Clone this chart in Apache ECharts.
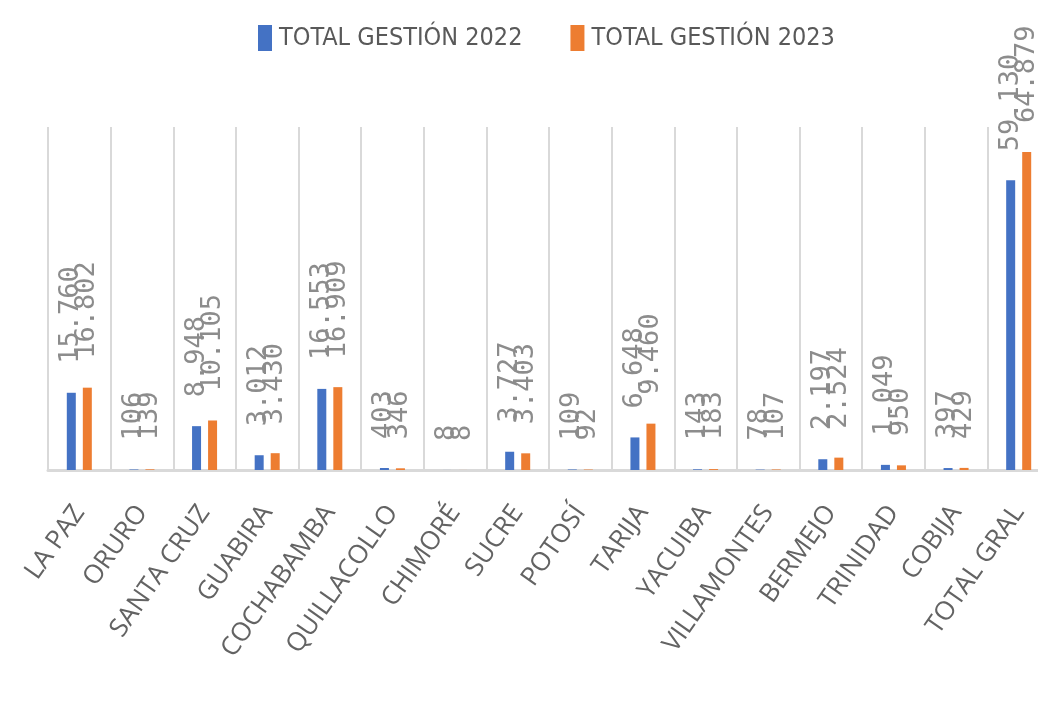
<!DOCTYPE html>
<html>
<head>
<meta charset="utf-8">
<script src="https://cdn.jsdelivr.net/npm/echarts@6/dist/echarts.min.js"></script>
<style>
html, body { margin: 0; padding: 0; background: #fff; }
#main { width: 1038px; height: 721px; }
</style>
</head>
<body>
<div id="main"></div>
<script>
var categories = ['LA PAZ', 'ORURO', 'SANTA CRUZ', 'GUABIRA', 'COCHABAMBA', 'QUILLACOLLO', 'CHIMORÉ', 'SUCRE',
    'POTOSÍ', 'TARIJA', 'YACUIBA', 'VILLAMONTES', 'BERMEJO', 'TRINIDAD', 'COBIJA', 'TOTAL GRAL'];
var gestion2022 = [15760, 106, 8948, 3012, 16553, 403, 8, 3727, 109, 6648, 143, 78, 2197, 1049, 397, 59130];
var gestion2023 = [16802, 139, 10105, 3430, 16909, 346, 8, 3403, 92, 9460, 183, 107, 2524, 950, 429, 64879];
var seriesNames = ['TOTAL GESTIÓN 2022', 'TOTAL GESTIÓN 2023'];

var chart = echarts.init(document.getElementById('main'));

// separador de miles con punto
function miles(v) {
    return String(v).replace(/\B(?=(\d{3})+(?!\d))/g, '.');
}

var valueLabel = {
    show: true,
    position: 'top',
    rotate: 90,
    align: 'left',
    verticalAlign: 'middle',
    distance: 29,
    color: '#8c8c8c',
    fontFamily: 'DejaVu Sans Mono',
    fontSize: 27,
    formatter: function (p) { return miles(p.value); }
};

option = {
    animation: false,
    color: ['#4472c4', '#ed7d31'],
    legend: {
        top: 20,
        left: 253,
        itemWidth: 14,
        itemHeight: 26,
        itemGap: 48,
        icon: 'rect',
        textStyle: {
            color: '#595959',
            fontFamily: 'DejaVu Sans Condensed, Roboto, sans-serif',
            fontSize: 25,
            padding: [0, 0, 0, 2]
        },
        data: seriesNames
    },
    grid: {
        left: 48,
        top: 127,
        width: 1002,
        bottom: 251,
        outerBoundsMode: 'none'
    },
    xAxis: {
        type: 'category',
        data: categories,
        axisTick: { show: false },
        axisLine: {
            lineStyle: { color: '#d9d9d9', width: 3 }
        },
        splitLine: {
            show: true,
            lineStyle: { color: '#d9d9d9', width: 2 }
        },
        axisLabel: {
            interval: 0,
            rotate: 55,
            margin: 38,
            color: '#636363',
            fontFamily: 'Open Sans',
            fontSize: 26
        }
    },
    yAxis: {
        type: 'value',
        min: 0,
        max: 70000,
        show: false,
        splitLine: { show: false }
    },
    series: [
        {
            name: seriesNames[0],
            type: 'bar',
            barWidth: 9,
            barGap: '78%',
            label: valueLabel,
            data: gestion2022
        },
        {
            name: seriesNames[1],
            type: 'bar',
            barWidth: 9,
            barGap: '78%',
            label: valueLabel,
            data: gestion2023
        }
    ]
};

chart.setOption(option);
</script>
</body>
</html>
